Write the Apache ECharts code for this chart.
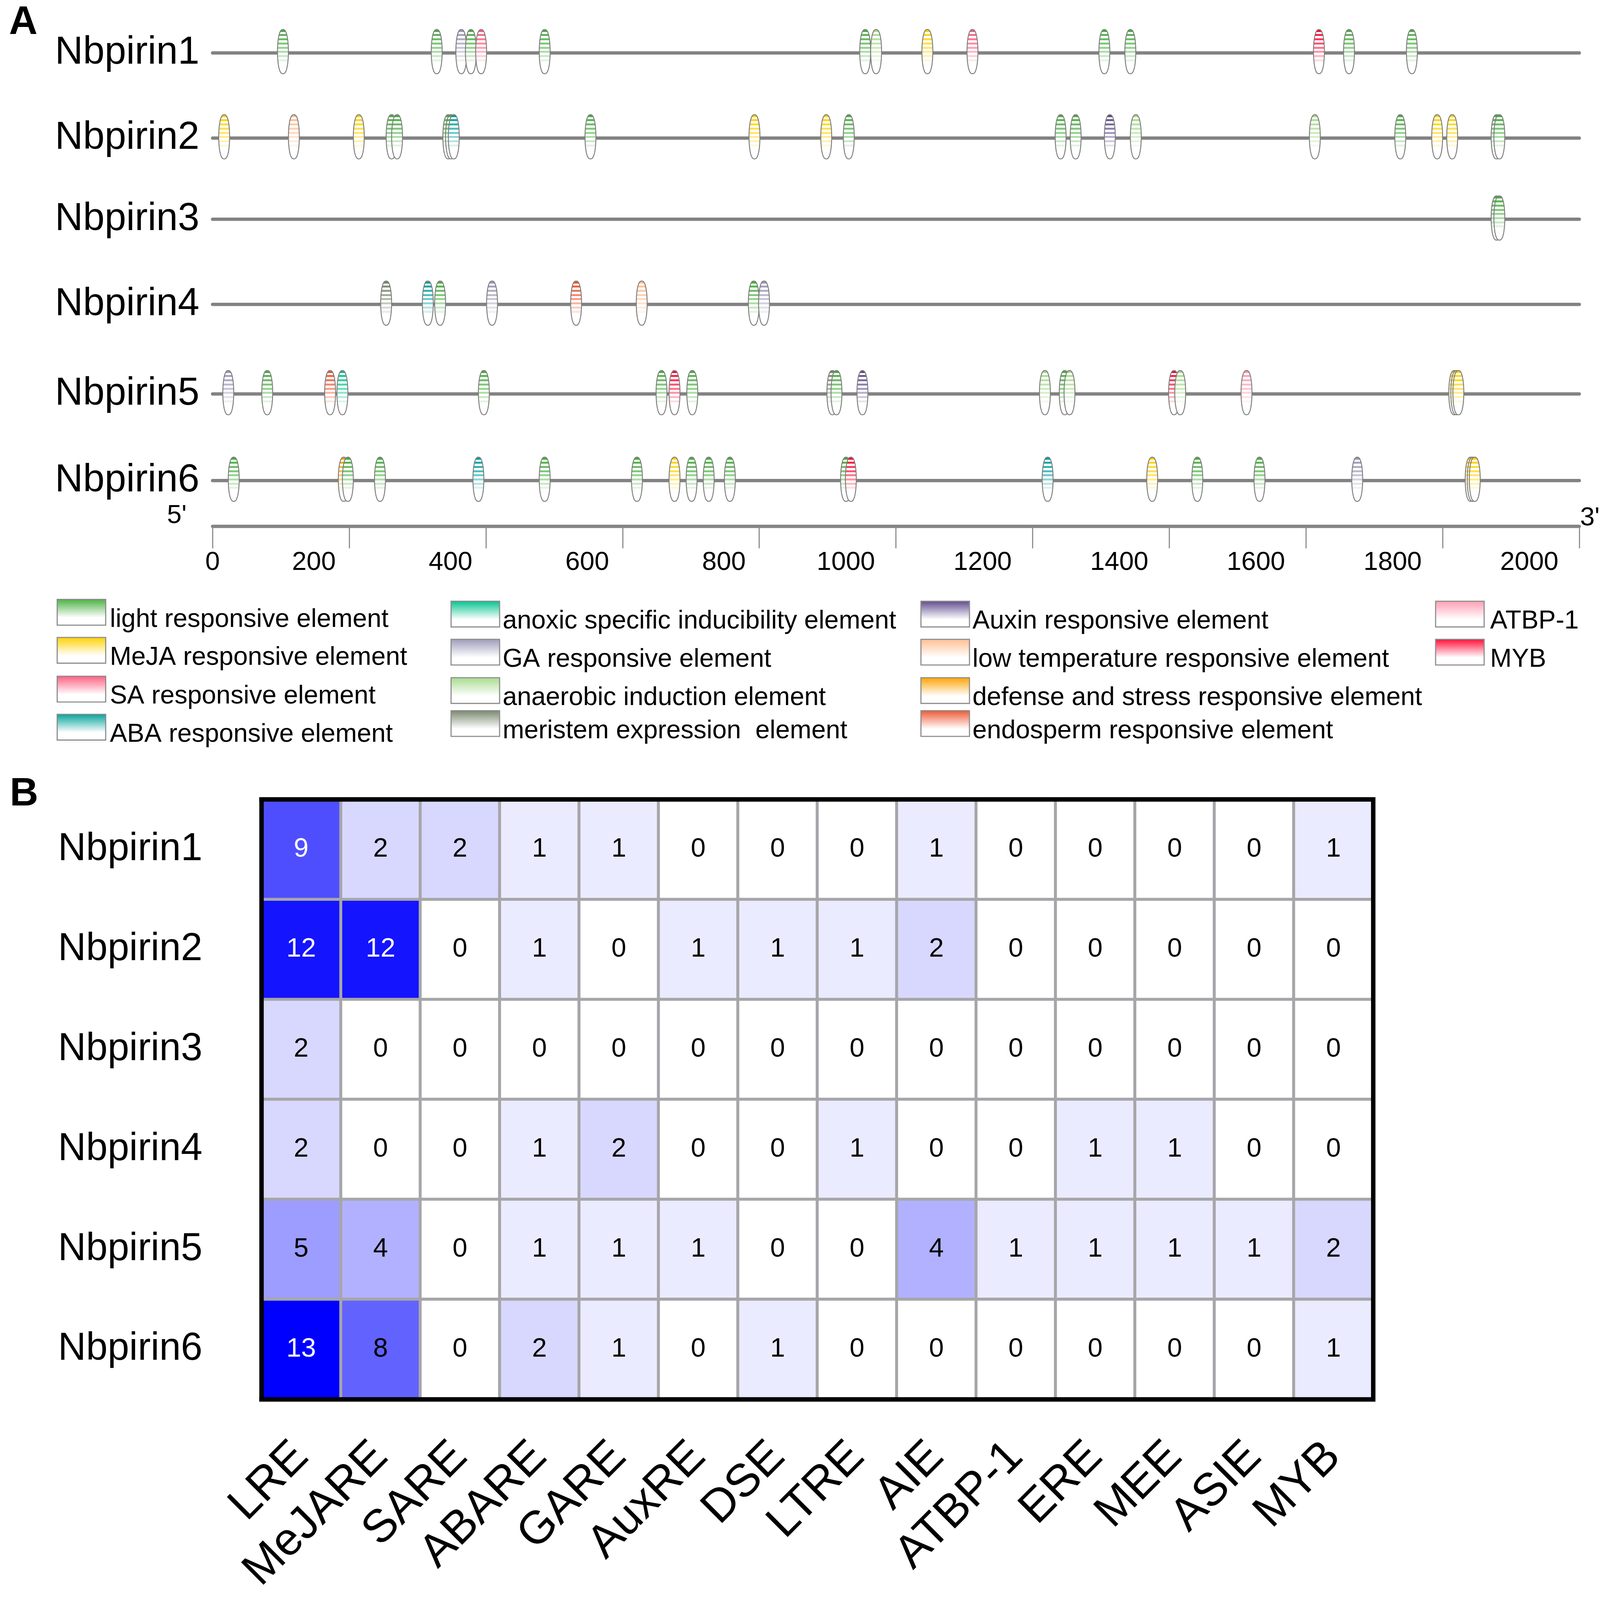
<!DOCTYPE html>
<html><head><meta charset="utf-8">
<script src="https://cdn.jsdelivr.net/npm/echarts@6/dist/echarts.min.js"></script>
<style>html,body{margin:0;padding:0;background:#fff;overflow:hidden}#c{width:100vw;height:100vh}</style>
</head><body><div id="c"></div>
<script>
const FONT = '"Liberation Sans", Arial, Helvetica, sans-serif';

// ---------- Panel A data ----------
const geneNames = ['Nbpirin1','Nbpirin2','Nbpirin3','Nbpirin4','Nbpirin5','Nbpirin6'];
const seqMax = 2000;
const seqInterval = 200;

const typeKeys   = ['LRE','MeJA','SA','ABA','ANOX','GA','AN','ME','AUX','LT','DEF','ENDO','ATBP','MYB'];
const typeColors = ['#48B040','#FFD200','#FF5C7E','#00A19B','#00C28E','#9C9AB8','#A6DB8C','#77866B','#5D4A8C','#FFBE90','#FFA200','#EE5530','#FF9CB2','#FF0A35'];
const legendLabels = ['light responsive element','MeJA responsive element','SA responsive element','ABA responsive element',
  'anoxic specific inducibility element','GA responsive element','anaerobic induction element','meristem expression  element',
  'Auxin responsive element','low temperature responsive element','defense and stress responsive element','endosperm responsive element',
  'ATBP-1','MYB'];

const pirin1Pos  = [103,328,364,378,393,486,955,971,1046,1112,1305,1343,1619,1663,1755];
const pirin1Type = ['LRE','LRE','GA','LRE','SA','LRE','LRE','AN','MeJA','SA','LRE','LRE','MYB','LRE','LRE'];
const pirin2Pos  = [17,119,214,262,270,345,349,353,553,793,898,931,1241,1263,1313,1351,1613,1738,1792,1814,1879,1883];
const pirin2Type = ['MeJA','LT','MeJA','LRE','LRE','LRE','LRE','ABA','LRE','MeJA','MeJA','LRE','LRE','LRE','AUX','AN','AN','LRE','MeJA','MeJA','LRE','LRE'];
const pirin3Pos  = [1879,1883];
const pirin3Type = ['LRE','LRE'];
const pirin4Pos  = [254,315,333,409,532,628,792,807];
const pirin4Type = ['ME','ABA','LRE','GA','ENDO','LT','LRE','GA'];
const pirin5Pos  = [23,80,172,190,397,657,676,702,907,913,951,1218,1247,1254,1407,1416,1513,1817,1820,1823];
const pirin5Type = ['GA','LRE','ENDO','ANOX','LRE','LRE','MYB','LRE','ME','LRE','AUX','AN','LRE','AN','MYB','AN','ATBP','MeJA','MeJA','MeJA'];
const pirin6Pos  = [31,192,198,245,389,486,621,676,701,726,757,927,934,1222,1375,1441,1532,1675,1841,1844,1847];
const pirin6Type = ['LRE','DEF','LRE','LRE','ABA','LRE','LRE','MeJA','LRE','LRE','LRE','LRE','MYB','ABA','MeJA','LRE','LRE','GA','MeJA','MeJA','MeJA'];
const rowPos  = [pirin1Pos, pirin2Pos, pirin3Pos, pirin4Pos, pirin5Pos, pirin6Pos];
const rowType = [pirin1Type, pirin2Type, pirin3Type, pirin4Type, pirin5Type, pirin6Type];

// ---------- Panel B data ----------
const elementCats = ['LRE','MeJARE','SARE','ABARE','GARE','AuxRE','DSE','LTRE','AIE','ATBP-1','ERE','MEE','ASIE','MYB'];
const countP1 = [9,2,2,1,1,0,0,0,1,0,0,0,0,1];
const countP2 = [12,12,0,1,0,1,1,1,2,0,0,0,0,0];
const countP3 = [2,0,0,0,0,0,0,0,0,0,0,0,0,0];
const countP4 = [2,0,0,1,2,0,0,1,0,0,1,1,0,0];
const countP5 = [5,4,0,1,1,1,0,0,4,1,1,1,1,2];
const countP6 = [13,8,0,2,1,0,1,0,0,0,0,0,0,1];
const countRows = [countP1,countP2,countP3,countP4,countP5,countP6];

// ---------- layout (designed for 4253 x 4415, scaled to the real viewport) ----------
const el = document.getElementById('c');
const W = el.clientWidth || 4253, H = el.clientHeight || 4415;
const sx = W/4253, sy = H/4415, fs = (sx + sy)/2;
const X = v => v*sx, Y = v => v*sy, F = v => v*fs;

const rowLineY = [146, 381, 605, 840, 1087, 1326];
const trackLeft = 565, trackRight = 55;
const hmLeft = 695, hmTop = 2206, hmWidth = 2955, hmHeight = 1655;

function hexRgb(h){ h=h.replace('#',''); return [parseInt(h.slice(0,2),16),parseInt(h.slice(2,4),16),parseInt(h.slice(4,6),16)]; }
function mix(c, t){ const r=hexRgb(c); return 'rgb('+r.map(v=>Math.round(v+(255-v)*t)).join(',')+')'; }
function stripeFill(c){
  const stops=[]; const n=10.8, off=0.02;
  stops.push({offset:0,color:'#ffffff'},{offset:off,color:'#ffffff'});
  for(let k=0;k<8;k++){
    const t=Math.min(1,Math.pow(k/8,1.2)); const cc=mix(c,t);
    const s0=off+k/n, s1=off+(k+0.47)/n, s2=off+(k+1)/n;
    stops.push({offset:s0,color:cc},{offset:s1,color:cc},{offset:s1,color:'#ffffff'},{offset:Math.min(1,s2),color:'#ffffff'});
  }
  stops.push({offset:1,color:'#ffffff'});
  return {type:'linear',x:0,y:0,x2:0,y2:1,colorStops:stops};
}

function renderCapsule(params, api){
  const p = api.coord([api.value(0), 0]);
  const col = typeColors[api.value(2)];
  const a = X(14.5), b = Y(61), cx = p[0], cy = p[1] - Y(3.5);
  const pts = [];
  const N = 90;
  for(let k=0;k<N;k++){
    const th = k/N*2*Math.PI;
    const s = Math.sin(th), u = Math.cos(th);
    pts.push([cx + a*Math.sign(s)*Math.pow(Math.abs(s),0.8), cy - b*u]);
  }
  return {type:'polygon', shape:{points:pts}, style:{fill:stripeFill(col), stroke:'#7d7d7d', lineWidth:F(2.5)}};
}

const grids=[], xAxes=[], yAxes=[], series=[];
for(let i=0;i<6;i++){
  grids.push({left:X(trackLeft), right:X(trackRight), top:Y(rowLineY[i]-80), height:Y(160)});
  xAxes.push({gridIndex:i, type:'value', min:0, max:seqMax, show:false});
  yAxes.push({gridIndex:i, type:'category', data:[geneNames[i]], axisLine:{show:false}, axisTick:{show:false}, splitLine:{show:false},
    axisLabel:{fontSize:F(105), fontFamily:FONT, color:'#000', margin:X(35), padding:[F(10),0,0,0]}});
  series.push({type:'line', xAxisIndex:i, yAxisIndex:i, data:[[0,geneNames[i]],[seqMax,geneNames[i]]], symbol:'none', silent:true, z:2,
    lineStyle:{color:'#828282', width:F(9), cap:'round'}});
  series.push({type:'custom', xAxisIndex:i, yAxisIndex:i, z:3, silent:true, renderItem:renderCapsule,
    data: rowPos[i].map((v,j)=>[v, 0, typeKeys.indexOf(rowType[i][j])])});
}
// scale axis
grids.push({left:X(trackLeft), right:X(trackRight), top:Y(1400), height:Y(52)});
xAxes.push({gridIndex:6, type:'value', min:0, max:seqMax, interval:seqInterval, position:'bottom',
  axisLine:{lineStyle:{color:'#848484', width:F(9), cap:'round'}},
  axisTick:{length:Y(61), lineStyle:{color:'#8a8a8a', width:F(3)}},
  splitLine:{show:false},
  axisLabel:{margin:Y(65), fontSize:F(71), fontFamily:FONT, color:'#000',
    formatter:function(v){ const s=String(v); if(v===0) return '{z|0}'; return s.length===3 ? '{a|'+s+'}' : '{b|'+s+'}'; },
    rich:{ z:{fontSize:F(71),fontFamily:FONT,color:'#000'},
           a:{fontSize:F(71),fontFamily:FONT,color:'#000',padding:[0,X(188),0,0]},
           b:{fontSize:F(71),fontFamily:FONT,color:'#000',padding:[0,X(266),0,0]} }}});
yAxes.push({gridIndex:6, type:'value', show:false});

// heatmap
grids.push({left:X(hmLeft), top:Y(hmTop), width:X(hmWidth), height:Y(hmHeight)});
xAxes.push({gridIndex:7, type:'category', data:elementCats, z:10,
  axisLine:{lineStyle:{color:'#000', width:F(12), cap:'square'}},
  axisTick:{alignWithLabel:true, length:Y(69), lineStyle:{color:'#000', width:F(12)}},
  axisLabel:{rotate:45, interval:0, fontSize:F(125), fontFamily:FONT, color:'#000', margin:Y(139)},
  splitLine:{show:false}});
xAxes.push({gridIndex:7, type:'category', data:elementCats, position:'top', z:10,
  axisLine:{lineStyle:{color:'#000', width:F(12), cap:'square'}}, axisTick:{show:false}, axisLabel:{show:false}});
yAxes.push({gridIndex:7, type:'category', data:geneNames, inverse:true, z:10,
  axisLine:{lineStyle:{color:'#000', width:F(12), cap:'square'}}, axisTick:{show:false},
  axisLabel:{fontSize:F(105), fontFamily:FONT, color:'#000', margin:X(157)}});
yAxes.push({gridIndex:7, type:'category', data:geneNames, inverse:true, position:'right', z:10,
  axisLine:{lineStyle:{color:'#000', width:F(12), cap:'square'}}, axisTick:{show:false}, axisLabel:{show:false}});

const hmData=[];
countRows.forEach((row,i)=>row.forEach((v,j)=>{
  hmData.push({value:[j,i,v], label:{color: v>=9 ? '#ffffff' : '#000000'}});
}));
const hmIndex = series.length;
series.push({type:'heatmap', xAxisIndex:7, yAxisIndex:7, data:hmData, z:2,
  itemStyle:{borderColor:'#A6A6AA', borderWidth:F(8)},
  label:{show:true, fontSize:F(72), fontFamily:FONT},
  emphasis:{disabled:true}});

// graphic: panel letters, 5'/3', legend
function txt(x,y,text,size,align,weight,color){
  return {type:'text', x:X(x), y:Y(y), silent:true, style:{text:text, fontSize:F(size), fontFamily:FONT, fontWeight:weight||'normal', fill:color||'#000',
    align:align, textAlign:align, verticalAlign:'middle', textVerticalAlign:'middle'}};
}
const graphics=[];
graphics.push(txt(24,64,'A',107,'left','bold'));
graphics.push(txt(26,2193,'B',107,'left','bold'));
graphics.push(txt(470,1423,"5'",71,'center'));
graphics.push(txt(4226,1430,"3'",71,'center'));
const legBoxX = [152,1199,2448,3816];
const legTextX = [292,1336,2585,3961];
const legRowTop = [[1654,1759,1866,1971],[1659,1764,1870,1961],[1659,1764,1870,1961],[1659,1764,1870,1961]];
legendLabels.forEach((name,i)=>{
  const c=Math.floor(i/4), r=i%4;
  const top=legRowTop[c][r];
  graphics.push({type:'rect', silent:true, shape:{x:X(legBoxX[c]), y:Y(top), width:X(129), height:Y(71)},
    style:{fill:{type:'linear',x:0,y:0,x2:0,y2:1,colorStops:[{offset:0,color:typeColors[i]},{offset:0.7,color:'#ffffff'},{offset:1,color:'#ffffff'}]},
      stroke:'#8c8c8c', lineWidth:F(3)}});
  graphics.push(txt(legTextX[c], top+36+20, name, 70, 'left'));
});

const chart = echarts.init(el, null, {renderer:'canvas'});
chart.setOption({
  animation:false,
  backgroundColor:'#ffffff',
  grid:grids, xAxis:xAxes, yAxis:yAxes,
  visualMap:{show:false, type:'continuous', min:0, max:13, seriesIndex:hmIndex, inRange:{color:['#ffffff','#0000ff']}},
  series:series,
  graphic:graphics
});
</script></body></html>
